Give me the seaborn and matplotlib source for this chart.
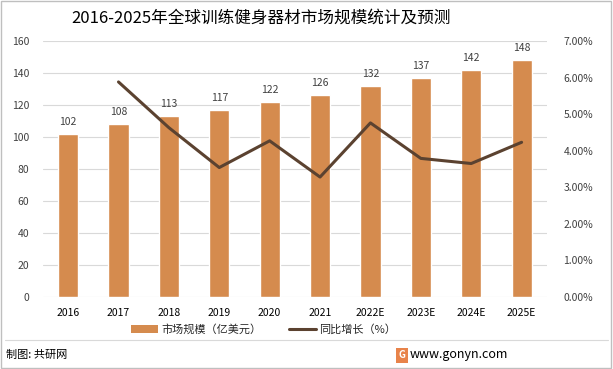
import numpy as np
import matplotlib
matplotlib.use('Agg')
import matplotlib.pyplot as plt
import seaborn as sns
import pandas as pd
from matplotlib.patches import Rectangle
from matplotlib.lines import Line2D
from matplotlib.patches import Patch

# ===============================
# Data
# ===============================
years = ['2016', '2017', '2018', '2019', '2020', '2021', '2022E', '2023E', '2024E', '2025E']
market_size = [102, 108, 113, 117, 122, 126, 132, 137, 142, 148]
growth_years = years[1:]
growth_pct = [5.88, 4.63, 3.54, 4.27, 3.28, 4.76, 3.79, 3.65, 4.23]

title = '2016-2025年全球训练健身器材市场规模统计及预测'
bar_label = '市场规模（亿美元）'
line_label = '同比增长（%）'

# ===============================
# Style
# ===============================
sns.set_theme(style='white')
plt.rcParams['font.family'] = ['Noto Sans CJK SC', 'DejaVu Sans']

bar_color = '#D58B4E'
line_color = '#5B4230'
grid_color = '#D9D9D9'
text_color = '#404040'

fig = plt.figure(figsize=(6.13, 3.69), dpi=100)
ax = fig.add_axes([0.070, 0.195, 0.822, 0.694])

df = pd.DataFrame({'year': years, 'size': market_size})
sns.barplot(data=df, x='year', y='size', color=bar_color, width=0.4,
            saturation=1, ax=ax, zorder=3)
ax.set_ylim(0, 160)
ax.set_yticks(np.arange(0, 161, 20))
ax.set_xlim(-0.5, len(years) - 0.5)
ax.set_xlabel('')
ax.set_ylabel('')
ax.grid(axis='y', color=grid_color, linewidth=0.8, zorder=0)
for s in ax.spines.values():
    s.set_visible(False)
ax.tick_params(axis='y', length=0, pad=10, labelsize=7.5, labelcolor=text_color)
ax.tick_params(axis='x', length=0, pad=8, labelsize=7.5, labelcolor='black')

for i, v in enumerate(market_size):
    ax.annotate(str(v), (i, v), xytext=(0, 5), textcoords='offset points',
                ha='center', va='bottom', fontsize=7.5, color=text_color)

ax2 = ax.twinx()
ax2.set_position(ax.get_position())
ax2.plot(np.arange(1, len(years)), growth_pct, color=line_color, linewidth=2.2, zorder=4)
ax2.set_ylim(0, 7)
ax2.set_yticks(np.arange(0, 7.01, 1))
ax2.set_yticklabels([f'{t:.2f}%' for t in np.arange(0, 7.01, 1)])
ax2.tick_params(axis='y', length=0, pad=12, labelsize=7.5, labelcolor=text_color)
ax2.grid(False)
for s in ax2.spines.values():
    s.set_visible(False)

# title
fig.text(0.425, 0.952, title, ha='center', va='center', fontsize=12, color='black')

# legend
handles = [Patch(facecolor=bar_color, edgecolor='none'),
           Line2D([0], [0], color=line_color, linewidth=2.2)]
fig.legend(handles, [bar_label, line_label], loc='center', bbox_to_anchor=(0.43, 0.107),
           ncol=2, frameon=False, fontsize=8, handlelength=2.4, handleheight=0.7,
           columnspacing=2.5, handletextpad=0.3)

# footer
fig.add_artist(Line2D([0.008, 0.992], [0.079, 0.079], color='#D9D9D9', linewidth=0.8))
fig.text(0.010, 0.038, '制图: 共研网', ha='left', va='center', fontsize=8, color='black')
fig.text(0.829, 0.038, 'www.gonyn.com', ha='right', va='center', fontsize=9, color='black')
fig.add_artist(Rectangle((0.646, 0.016), 0.020, 0.042, facecolor='#E8834A',
                         edgecolor='none', transform=fig.transFigure))
fig.text(0.656, 0.037, 'G', ha='center', va='center', fontsize=7, color='white',
         fontweight='bold')

# outer frame
fig.add_artist(Rectangle((0.002, 0.003), 0.995, 0.993, fill=False, edgecolor='#BFBFBF',
                         linewidth=1, transform=fig.transFigure))

fig.savefig('out.png', dpi=100)
